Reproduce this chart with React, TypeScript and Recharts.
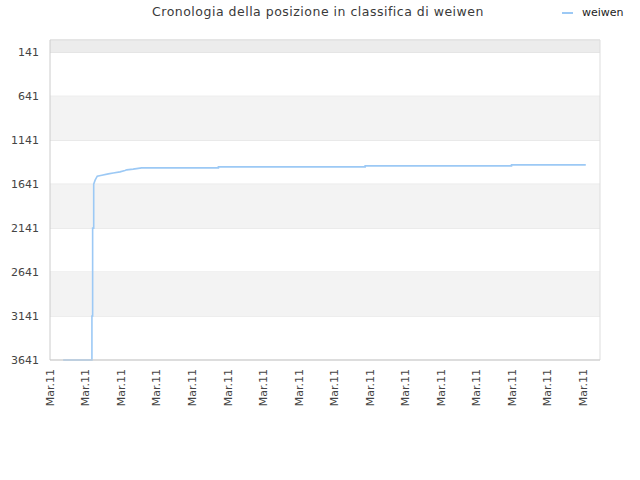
import React from "react";
import {
  LineChart, Line, XAxis, YAxis, CartesianGrid, ReferenceArea, ReferenceLine,
} from "recharts";

// x in tick units (one tick = one "Mar.11" step), y = position in classifica
const times = [
  0.37, 1.18, 1.18, 1.2, 1.2, 1.23, 1.23, 1.27, 1.33, 1.46, 1.64, 1.78,
  1.97, 2.11, 2.16, 2.34, 2.58, 4.74, 4.74, 8.87, 8.87, 12.99, 12.99, 15.08,
];
const ranks = [
  3641, 3641, 3141, 3141, 2141, 2141, 1641, 1595, 1550, 1539, 1524, 1513,
  1501, 1485, 1478, 1470, 1456, 1456, 1444, 1444, 1433, 1433, 1422, 1422,
];
const xTicks = [0, 1, 2, 3, 4, 5, 6, 7, 8, 9, 10, 11, 12, 13, 14, 15];
const xLabels = xTicks.map(() => "Mar.11");
const yTicks = [141, 641, 1141, 1641, 2141, 2641, 3141, 3641];
const bands = [
  [1, 141, "#ececec"],
  [641, 1141, "#f3f3f3"],
  [1641, 2141, "#f3f3f3"],
  [2641, 3141, "#f3f3f3"],
] as const;

const data = times.map((t, i) => ({ t, weiwen: ranks[i] }));
const font = "'DejaVu Sans', sans-serif";

const XTick = (props: any) => {
  const { x, y, index } = props;
  return (
    <text
      transform={`translate(${x},${y + 1}) rotate(-90)`}
      textAnchor="end"
      dy="0.35em"
      fontSize={11}
      fontFamily={font}
      fill="#444"
    >
      {xLabels[index]}
    </text>
  );
};

export default function App() {
  return (
    <div style={{ position: "absolute", left: 0, top: 0, width: 640, height: 480, background: "#fff" }}>
      <div
        style={{
          position: "absolute", top: 4, left: 0, width: 636, textAlign: "center",
          fontFamily: font, fontSize: 12.5, letterSpacing: 0.5, color: "#3a3a3a",
        }}
      >
        Cronologia della posizione in classifica di weiwen
      </div>
      <div
        style={{
          position: "absolute", top: 6, left: 562, fontFamily: font, fontSize: 11,
          color: "#222", display: "flex", alignItems: "center",
        }}
      >
        <span style={{ display: "inline-block", width: 11, height: 2, background: "#9cc9f5", marginRight: 9 }} />
        weiwen
      </div>
      <LineChart
        width={640}
        height={480}
        data={data}
        margin={{ top: 40, right: 40, bottom: 60, left: 0 }}
      >
        {bands.map(([a, b, c], i) => (
          <ReferenceArea key={i} y1={a} y2={b} fill={c} fillOpacity={1} stroke="none" />
        ))}
        <CartesianGrid vertical={false} stroke="#dddddd" />
        <ReferenceLine x={15.48} stroke="#dddddd" />
        <ReferenceLine y={1} stroke="#dddddd" />
        <XAxis
          dataKey="t"
          type="number"
          domain={[0, 15.48]}
          ticks={xTicks}
          interval={0}
          tick={<XTick />}
          tickLine={false}
          axisLine={{ stroke: "#cccccc" }}
          height={60}
        />
        <YAxis
          type="number"
          reversed
          domain={[1, 3641]}
          ticks={yTicks}
          interval={0}
          width={50}
          tickLine={false}
          tickSize={0}
          tickMargin={11}
          axisLine={{ stroke: "#cccccc" }}
          tick={{ fontSize: 11, fontFamily: font, fill: "#444" }}
        />
        <Line
          type="linear"
          dataKey="weiwen"
          stroke="#9cc9f5"
          strokeWidth={1.6}
          dot={false}
          isAnimationActive={false}
        />
      </LineChart>
    </div>
  );
}
